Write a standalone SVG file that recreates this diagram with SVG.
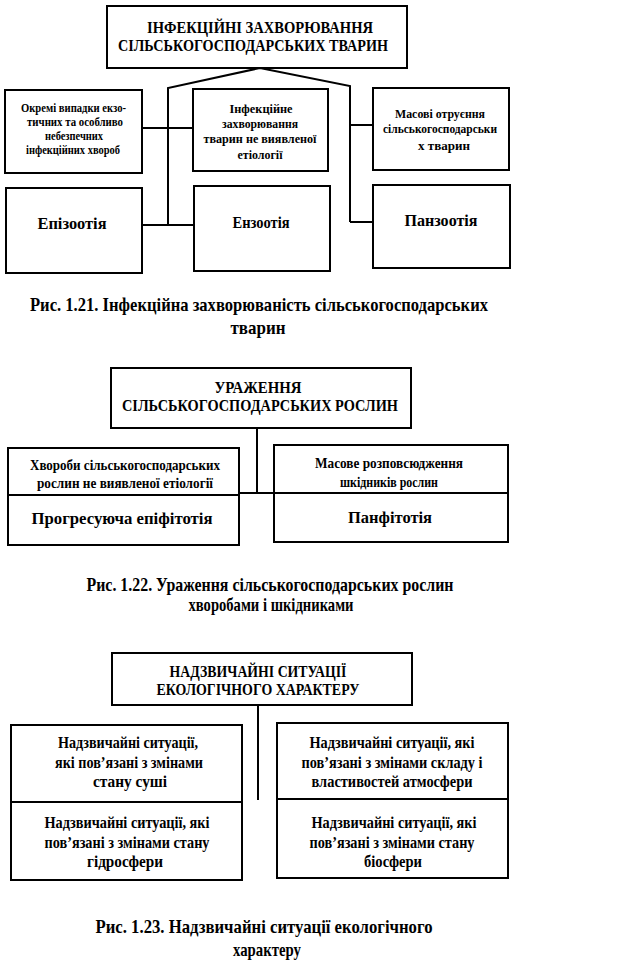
<svg xmlns="http://www.w3.org/2000/svg" width="619" height="964" viewBox="0 0 619 964">
<style>
.b{fill:none;stroke:#000;stroke-width:2}
.c{fill:none;stroke:#000;stroke-width:2}
text{font-family:"Liberation Serif","Times New Roman",serif;font-weight:bold;fill:#000;text-anchor:middle}
.f12{font-size:12px}.f13{font-size:12.5px}.f14{font-size:14px}.f16{font-size:16px}.f17{font-size:17px}.f19{font-size:19px}
</style>
<rect width="619" height="964" fill="#fff"/>
<g id="connectors">
<polyline class="c" points="168,225 168,88 260,68 350,86 350,222"/>
<line class="c" x1="142" y1="128" x2="194" y2="128"/>
<line class="c" x1="142" y1="225" x2="194" y2="225"/>
<line class="c" x1="350" y1="125" x2="373" y2="125"/>
<line class="c" x1="350" y1="222" x2="373" y2="222"/>
<line class="c" x1="257" y1="428" x2="257" y2="493"/>
<line class="c" x1="239" y1="493" x2="274" y2="493"/>
<line class="c" x1="258" y1="705" x2="258" y2="800"/>
</g>
<g id="d1-top">
<rect class="b" x="107" y="6" width="300" height="62"/>
<text class="f17" x="260" y="33" textLength="226" lengthAdjust="spacingAndGlyphs">ІНФЕКЦІЙНІ ЗАХВОРЮВАННЯ</text>
<text class="f17" x="253" y="51" textLength="270" lengthAdjust="spacingAndGlyphs">СІЛЬСЬКОГОСПОДАРСЬКИХ ТВАРИН</text>
</g>
<g id="d1-a">
<rect class="b" x="5" y="90" width="137" height="83"/>
<text class="f12" x="73.5" y="112" textLength="105" lengthAdjust="spacingAndGlyphs">Окремі випадки екзо-</text>
<text class="f12" x="75" y="126" textLength="96" lengthAdjust="spacingAndGlyphs">тичних та особливо</text>
<text class="f12" x="74" y="140" textLength="58" lengthAdjust="spacingAndGlyphs">небезпечних</text>
<text class="f12" x="73" y="154" textLength="94" lengthAdjust="spacingAndGlyphs">інфекційних хвороб</text>
</g>
<g id="d1-b">
<rect class="b" x="193" y="89" width="135" height="82"/>
<text class="f13" x="261" y="113" textLength="63" lengthAdjust="spacingAndGlyphs">Інфекційне</text>
<text class="f13" x="260" y="128" textLength="76" lengthAdjust="spacingAndGlyphs">захворювання</text>
<text class="f13" x="260" y="143" textLength="113" lengthAdjust="spacingAndGlyphs">тварин  не виявленої</text>
<text class="f13" x="260" y="159" textLength="45" lengthAdjust="spacingAndGlyphs">етіології</text>
</g>
<g id="d1-c">
<rect class="b" x="373" y="88" width="136" height="82"/>
<text class="f13" x="440" y="118" textLength="90" lengthAdjust="spacingAndGlyphs">Масові отруєння</text>
<text class="f13" x="440" y="133" textLength="114" lengthAdjust="spacingAndGlyphs">сільськогосподарськи</text>
<text class="f13" x="444" y="150" textLength="52" lengthAdjust="spacingAndGlyphs">х тварин</text>
</g>
<g id="d1-d">
<rect class="b" x="6" y="188" width="136" height="85"/>
<text class="f16" x="72" y="229" textLength="69" lengthAdjust="spacingAndGlyphs">Епізоотія</text>
</g>
<g id="d1-e">
<rect class="b" x="194" y="186" width="136" height="85"/>
<text class="f16" x="261" y="228" textLength="57" lengthAdjust="spacingAndGlyphs">Ензоотія</text>
</g>
<g id="d1-f">
<rect class="b" x="373" y="185" width="137" height="83"/>
<text class="f16" x="441" y="226" textLength="73" lengthAdjust="spacingAndGlyphs">Панзоотія</text>
</g>
<g id="cap1">
<text class="f19" x="259" y="311" textLength="458" lengthAdjust="spacingAndGlyphs">Рис. 1.21. Інфекційна захворюваність сільськогосподарських</text>
<text class="f19" x="258" y="334" textLength="55" lengthAdjust="spacingAndGlyphs">тварин</text>
</g>
<g id="d2-top">
<rect class="b" x="111" y="368" width="300" height="60"/>
<text class="f16" x="258" y="393" textLength="87" lengthAdjust="spacingAndGlyphs">УРАЖЕННЯ</text>
<text class="f16" x="260" y="411" textLength="276" lengthAdjust="spacingAndGlyphs">СІЛЬСЬКОГОСПОДАРСЬКИХ РОСЛИН</text>
</g>
<g id="d2-left">
<rect class="b" x="8" y="448" width="231" height="97"/>
<line class="b" x1="8" y1="495" x2="239" y2="495"/>
<text class="f14" x="125" y="470" textLength="190" lengthAdjust="spacingAndGlyphs">Хвороби сільськогосподарських</text>
<text class="f14" x="125" y="488" textLength="176" lengthAdjust="spacingAndGlyphs">рослин не виявленої етіології</text>
<text class="f16" x="122" y="524" textLength="181" lengthAdjust="spacingAndGlyphs">Прогресуюча епіфітотія</text>
</g>
<g id="d2-right">
<rect class="b" x="274" y="445" width="234" height="97"/>
<line class="b" x1="274" y1="493" x2="508" y2="493"/>
<text class="f14" x="389" y="468" textLength="148" lengthAdjust="spacingAndGlyphs">Масове розповсюдження</text>
<text class="f14" x="389" y="487" textLength="98" lengthAdjust="spacingAndGlyphs">шкідників рослин</text>
<text class="f16" x="390" y="523" textLength="84" lengthAdjust="spacingAndGlyphs">Панфітотія</text>
</g>
<g id="cap2">
<text class="f19" x="270" y="591" textLength="367" lengthAdjust="spacingAndGlyphs">Рис. 1.22. Ураження сільськогосподарських рослин</text>
<text class="f19" x="271" y="611" textLength="165" lengthAdjust="spacingAndGlyphs">хворобами і шкідниками</text>
</g>
<g id="d3-top">
<rect class="b" x="112" y="653" width="300" height="52"/>
<text class="f17" x="258" y="677" textLength="177" lengthAdjust="spacingAndGlyphs">НАДЗВИЧАЙНІ СИТУАЦІЇ</text>
<text class="f17" x="258" y="695" textLength="203" lengthAdjust="spacingAndGlyphs">ЕКОЛОГІЧНОГО ХАРАКТЕРУ</text>
</g>
<g id="d3-left">
<rect class="b" x="11" y="725" width="231" height="155"/>
<line class="b" x1="11" y1="802" x2="242" y2="802"/>
<text class="f16" x="128" y="748" textLength="140" lengthAdjust="spacingAndGlyphs">Надзвичайні ситуації,</text>
<text class="f16" x="129" y="768" textLength="148" lengthAdjust="spacingAndGlyphs">які пов’язані з змінами</text>
<text class="f16" x="130" y="787" textLength="74" lengthAdjust="spacingAndGlyphs">стану суші</text>
<text class="f16" x="127" y="828" textLength="165" lengthAdjust="spacingAndGlyphs">Надзвичайні ситуації, які</text>
<text class="f16" x="127" y="848" textLength="165" lengthAdjust="spacingAndGlyphs">пов’язані з змінами стану</text>
<text class="f16" x="125" y="867" textLength="76" lengthAdjust="spacingAndGlyphs">гідросфери</text>
</g>
<g id="d3-right">
<rect class="b" x="277" y="723" width="231" height="155"/>
<line class="b" x1="277" y1="799" x2="508" y2="799"/>
<text class="f16" x="392" y="748" textLength="165" lengthAdjust="spacingAndGlyphs">Надзвичайні ситуації, які</text>
<text class="f16" x="392" y="768" textLength="181" lengthAdjust="spacingAndGlyphs">пов’язані з змінами складу і</text>
<text class="f16" x="392" y="787" textLength="161" lengthAdjust="spacingAndGlyphs">властивостей атмосфери</text>
<text class="f16" x="394" y="828" textLength="165" lengthAdjust="spacingAndGlyphs">Надзвичайні ситуації, які</text>
<text class="f16" x="392" y="848" textLength="165" lengthAdjust="spacingAndGlyphs">пов’язані з змінами стану</text>
<text class="f16" x="393" y="867" textLength="58" lengthAdjust="spacingAndGlyphs">біосфери</text>
</g>
<g id="cap3">
<text class="f19" x="264" y="933" textLength="337" lengthAdjust="spacingAndGlyphs">Рис. 1.23. Надзвичайні ситуації екологічного</text>
<text class="f19" x="267" y="956" textLength="68" lengthAdjust="spacingAndGlyphs">характеру</text>
</g>
</svg>
